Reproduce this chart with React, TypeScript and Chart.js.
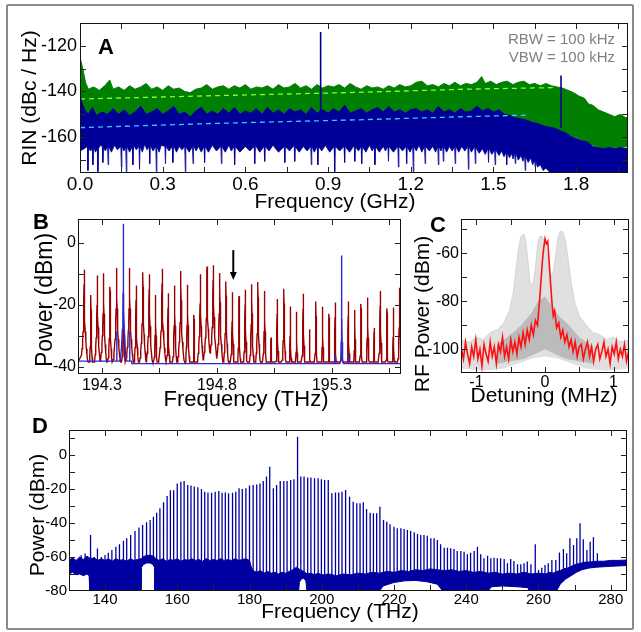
import React, { useEffect, useRef } from "react";
import { Chart, registerables } from "chart.js";

Chart.register(...registerables);

const FONT = "'Liberation Sans', Arial, Helvetica, sans-serif";
const PAGE_W = 641;
const PAGE_H = 632;
const Y_BOX = 50;
const X_BOX = 30;

type Pt = [number, number];

/* ================= Panel A : RIN ================= */
const aXTicks = [0, 0.15, 0.3, 0.45, 0.6, 0.75, 0.9, 1.05, 1.2, 1.35, 1.5, 1.65, 1.8, 1.95];
const aXLabels = [0, 0.3, 0.6, 0.9, 1.2, 1.5, 1.8];
const aYTicks = [-170, -160, -150, -140, -130, -120];
const aYLabels = [-160, -140, -120];

const aGreenTop: Pt[] = [
  [0, -125], [0.01, -130], [0.02, -136], [0.03, -139], [0.05, -138], [0.07, -139.5], [0.09, -137.5], [0.108, -135],
  [0.12, -139], [0.14, -138], [0.16, -139.5], [0.18, -137.5], [0.2, -139], [0.22, -138], [0.24, -136.5], [0.26, -139],
  [0.28, -138], [0.3, -139.5], [0.32, -137.5], [0.34, -139], [0.36, -138.5], [0.38, -140], [0.4, -140.5], [0.42, -139],
  [0.44, -138.5], [0.46, -137], [0.48, -139], [0.5, -138], [0.52, -137.5], [0.54, -139], [0.56, -137.5], [0.58, -138.5],
  [0.6, -137], [0.62, -139], [0.64, -138], [0.66, -138.5], [0.68, -137.5], [0.7, -139], [0.72, -137], [0.74, -138.5],
  [0.76, -138], [0.78, -136.5], [0.8, -138.5], [0.82, -137.5], [0.84, -139], [0.86, -137], [0.88, -138.5], [0.9, -137.5],
  [0.92, -138], [0.94, -137], [0.96, -138.5], [0.98, -136.5], [1.0, -138], [1.02, -139], [1.04, -137.5], [1.06, -138.5],
  [1.08, -138], [1.1, -139], [1.12, -137.5], [1.14, -138.5], [1.16, -137], [1.18, -138], [1.2, -137.5], [1.22, -136],
  [1.24, -135.5], [1.26, -137.5], [1.28, -137], [1.3, -138], [1.32, -136.5], [1.34, -137.5], [1.36, -136], [1.38, -137.5],
  [1.4, -136.5], [1.42, -137], [1.44, -136], [1.457, -133.5], [1.47, -136.5], [1.49, -135.5], [1.51, -137], [1.53, -136],
  [1.55, -135.5], [1.57, -137], [1.59, -136], [1.61, -135.5], [1.63, -137], [1.65, -136.5], [1.67, -137.5], [1.69, -136.5],
  [1.71, -137.5], [1.73, -138], [1.75, -138.5], [1.77, -139.5], [1.79, -140.5], [1.81, -142], [1.83, -143], [1.845, -145.5],
  [1.86, -146], [1.88, -148], [1.9, -149], [1.92, -150], [1.94, -151], [1.96, -150], [1.98, -151.5], [1.99, -151],
];
const aGreenBottom: Pt[] = [
  [0, -160], [1.7, -160], [1.75, -158], [1.8, -160], [1.85, -163], [1.9, -165], [1.95, -164.5], [1.99, -164],
];
const aBlueTop: Pt[] = [
  [0, -142], [0.01, -146], [0.02, -148.5], [0.03, -150], [0.045, -147], [0.06, -150.5], [0.08, -149], [0.1, -150],
  [0.12, -147.5], [0.14, -150], [0.16, -148], [0.18, -150.5], [0.2, -149], [0.22, -146.5], [0.24, -150], [0.26, -149],
  [0.28, -147.5], [0.3, -150], [0.32, -148.5], [0.34, -146.5], [0.36, -150], [0.38, -149], [0.4, -151], [0.42, -148.5],
  [0.44, -147], [0.46, -150], [0.48, -148.5], [0.5, -150], [0.52, -147.5], [0.54, -149.5], [0.56, -147], [0.58, -150],
  [0.6, -148.5], [0.62, -149.5], [0.64, -147.5], [0.66, -150], [0.68, -147], [0.7, -149.5], [0.72, -148], [0.74, -150],
  [0.76, -147.5], [0.78, -149], [0.8, -148], [0.82, -150], [0.84, -147], [0.86, -149.5], [0.88, -148], [0.9, -149.5],
  [0.92, -147.5], [0.94, -149], [0.96, -146], [0.98, -149.5], [1.0, -148.5], [1.02, -147.5], [1.04, -149.5], [1.06, -148],
  [1.08, -147], [1.1, -149], [1.12, -146.5], [1.14, -149], [1.16, -148], [1.18, -149.5], [1.2, -148], [1.22, -147.5],
  [1.24, -149], [1.26, -148], [1.28, -149.5], [1.3, -146.5], [1.32, -149], [1.34, -148], [1.36, -149.5], [1.38, -147.5],
  [1.4, -149], [1.42, -148.5], [1.44, -146.5], [1.46, -148.5], [1.48, -147.5], [1.5, -149], [1.52, -148], [1.54, -150],
  [1.56, -150.5], [1.58, -151.5], [1.6, -152], [1.62, -152.5], [1.64, -153.5], [1.66, -154], [1.68, -155], [1.7, -155.5],
  [1.72, -156], [1.74, -157], [1.76, -158], [1.78, -159.5], [1.8, -160.5], [1.82, -161.5], [1.84, -162], [1.86, -164],
  [1.88, -164.5], [1.9, -165], [1.92, -164.5], [1.94, -165], [1.96, -164.5], [1.99, -165],
];
const aBlueBottom: Pt[] = [
  [0, -166], [0.015, -165], [0.027, -164], [0.029, -174.5], [0.031, -164.5], [0.038, -166], [0.045, -165], [0.047, -172], [0.049, -164],
  [0.056, -166.5], [0.063, -165], [0.065, -175], [0.067, -165], [0.074, -163.5], [0.081, -164], [0.083, -171], [0.085, -164.5],
  [0.092, -166], [0.1, -164], [0.102, -172], [0.104, -164], [0.114, -166.5], [0.125, -163.5], [0.136, -165.5], [0.148, -164],
  [0.15, -173], [0.152, -164], [0.159, -166], [0.166, -164.5], [0.168, -175], [0.17, -164], [0.18, -166.5], [0.19, -164],
  [0.192, -172], [0.194, -163.5], [0.204, -165.5], [0.214, -164], [0.216, -174], [0.218, -164], [0.226, -166.5], [0.235, -163],
  [0.243, -165.5], [0.251, -164], [0.253, -171.5], [0.255, -163.5], [0.265, -166], [0.275, -164], [0.277, -175], [0.279, -164],
  [0.287, -166.5], [0.295, -163.5], [0.308, -164], [0.31, -171.5], [0.312, -164], [0.323, -166], [0.335, -164], [0.337, -171],
  [0.339, -163.5], [0.35, -166.5], [0.36, -164], [0.37, -165.5], [0.38, -164], [0.382, -175], [0.384, -164], [0.396, -166.5],
  [0.408, -164], [0.41, -171.5], [0.412, -163.5], [0.421, -166], [0.43, -164], [0.44, -166.5], [0.45, -164], [0.452, -171],
  [0.454, -164], [0.466, -166.5], [0.48, -163.5], [0.495, -166], [0.511, -164], [0.513, -171.5], [0.515, -164], [0.527, -166.5],
  [0.54, -163.5], [0.549, -166], [0.559, -164], [0.561, -172], [0.563, -164], [0.58, -166.5], [0.6, -164], [0.616, -166],
  [0.632, -164], [0.634, -171.5], [0.636, -163.5], [0.652, -166.5], [0.668, -164], [0.67, -170.5], [0.672, -164], [0.686, -166],
  [0.7, -163.5], [0.72, -166.5], [0.741, -164], [0.743, -171], [0.745, -164], [0.76, -166], [0.777, -163.5], [0.779, -170.5],
  [0.781, -164], [0.795, -166.5], [0.81, -164], [0.824, -166], [0.837, -164], [0.839, -172], [0.841, -164], [0.85, -166.5],
  [0.861, -164], [0.863, -172], [0.865, -164], [0.877, -166], [0.89, -163.5], [0.906, -166.5], [0.922, -164], [0.924, -175],
  [0.926, -164], [0.942, -166], [0.958, -164], [0.96, -171], [0.962, -164], [0.978, -166.5], [0.995, -163.5], [0.997, -170.5],
  [0.999, -164], [1.01, -166], [1.02, -164], [1.022, -171.5], [1.024, -164], [1.037, -166.5], [1.05, -163.5], [1.06, -166],
  [1.068, -164], [1.07, -172], [1.072, -164], [1.086, -166.5], [1.1, -164], [1.108, -166], [1.117, -164], [1.119, -170.5],
  [1.121, -164], [1.137, -166.5], [1.153, -164], [1.155, -173], [1.157, -164], [1.17, -166], [1.183, -164], [1.185, -171.5],
  [1.187, -164], [1.197, -166.5], [1.207, -164], [1.209, -175], [1.211, -164], [1.22, -166], [1.23, -163.5], [1.24, -166.5],
  [1.25, -164], [1.252, -171.5], [1.254, -164], [1.267, -166], [1.28, -164], [1.29, -166.5], [1.298, -164], [1.3, -172],
  [1.302, -164], [1.309, -166], [1.316, -164], [1.318, -170.5], [1.32, -164], [1.33, -166.5], [1.34, -164], [1.35, -166],
  [1.359, -164], [1.361, -171.5], [1.363, -164], [1.374, -166.5], [1.385, -164], [1.396, -166], [1.407, -164], [1.409, -174],
  [1.411, -164], [1.42, -166.5], [1.432, -164], [1.434, -171.5], [1.436, -164.5], [1.448, -167], [1.46, -165], [1.47, -167.5],
  [1.48, -165], [1.482, -171], [1.484, -165], [1.494, -167.5], [1.504, -165.5], [1.506, -172], [1.508, -165.5], [1.52, -168],
  [1.53, -166], [1.538, -168.5], [1.546, -166.5], [1.548, -172], [1.55, -166.5], [1.558, -169], [1.565, -167], [1.571, -169.5],
  [1.577, -167], [1.579, -171.5], [1.581, -167], [1.59, -170], [1.6, -168], [1.607, -170.5], [1.613, -168], [1.615, -174.5],
  [1.617, -168.5], [1.626, -171], [1.635, -169], [1.642, -172], [1.649, -170], [1.651, -173], [1.653, -170.5], [1.66, -173],
  [1.67, -172], [1.68, -174.5], [1.69, -173.5], [1.71, -176], [1.99, -176],
];
const aGreenMean: Pt[] = [[0, -143.3], [0.5, -141.8], [1.0, -140.4], [1.4, -139.0], [1.73, -138.3]];
const aBlueMean: Pt[] = [[0, -155.8], [0.5, -153.9], [1.0, -152.4], [1.4, -151.0], [1.63, -150.3]];
const aBlueSpurs: Pt[] = [[0.873, -114], [1.745, -133]];

/* ================= Panel B : optical comb ================= */
const bXTicks = [194.3, 194.55, 194.8, 195.05, 195.3, 195.55];
const bXLabels = [194.3, 194.8, 195.3];
const bYTicks = [-40, -30, -20, -10, 0];
const bYLabels = [-40, -20, 0];
const bCombFreq = [
  194.223, 194.252, 194.28, 194.307, 194.335, 194.364, 194.394, 194.42, 194.449, 194.478,
  194.506, 194.533, 194.562, 194.588, 194.616, 194.643, 194.672, 194.7, 194.728, 194.757,
  194.784, 194.812, 194.839, 194.867, 194.896, 194.923, 194.951, 194.978, 195.007, 195.035,
  195.062, 195.091, 195.119, 195.146, 195.175, 195.203, 195.23, 195.259, 195.287, 195.314,
  195.342, 195.371, 195.399, 195.426, 195.455, 195.483, 195.51, 195.539, 195.567, 195.594,
];
const bCombPow = [
  -8.6, -16.8, -10.5, -9.8, -14.1, -8.1, -16.5, -8.1, -13.7, -9.4,
  -10.1, -16.8, -8.3, -16.2, -13.7, -9.0, -13.5, -23.2, -10.1, -7.6,
  -7.2, -9.7, -12.4, -15.9, -17.1, -15.1, -13.3, -12.6, -15.5, -30.5,
  -18.1, -14.8, -20.5, -22.2, -16.4, -27.8, -18.9, -20.6, -22.8, -19.2,
  -24.5, -18.9, -21.6, -19.7, -17.6, -27.4, -15.5, -21.1, -20.8, -14.4,
];
const bCombFloor = -38.4;
const bPumpFreq = [194.365, 194.393, 194.421, 195.314, 195.342, 195.37];
const bPumpPow = [-28.5, 6.2, -28.5, -36, -4, -36];
const bPumpFloorLeft = -38.1;
const bPumpFloorRight = -38.9;
const bPumpFloorStep = 194.43;
const bArrow = { f: 194.871, from: -2.3, to: -11.9 };

/* ================= Panel C : beat note ================= */
const cXTicks = [-1, -0.5, 0, 0.5, 1];
const cXLabels = [-1, 0, 1];
const cYTicks = [-110, -100, -90, -80, -70, -60, -50];
const cYLabels = [-100, -80, -60];
const cRedX = [
  -1.22, -1.19, -1.16, -1.13, -1.1, -1.07, -1.04, -1.01, -0.98, -0.95, -0.92, -0.89, -0.86, -0.83, -0.8, -0.77,
  -0.74, -0.71, -0.68, -0.65, -0.62, -0.59, -0.56, -0.53, -0.5, -0.47, -0.44, -0.41, -0.38, -0.35, -0.32, -0.29,
  -0.26, -0.23, -0.2, -0.17, -0.14, -0.11, -0.08, -0.06, -0.04, -0.02, 0, 0.02, 0.04, 0.06, 0.08, 0.1, 0.12, 0.14,
  0.17, 0.2, 0.23, 0.26, 0.29, 0.32, 0.35, 0.38, 0.41, 0.44, 0.47, 0.5, 0.53, 0.56, 0.59, 0.62, 0.65, 0.68, 0.71,
  0.74, 0.77, 0.8, 0.83, 0.86, 0.89, 0.92, 0.95, 0.98, 1.01, 1.04, 1.07, 1.1, 1.13, 1.16, 1.19, 1.22,
];
const cRedY = [
  -100, -104, -97, -102, -106, -99, -103, -96, -104, -100, -107, -98, -102, -105, -97, -103,
  -99, -106, -98, -101, -95, -103, -99, -104, -96, -101, -97, -102, -95, -99, -93, -98,
  -92, -96, -90, -94, -88, -90, -80, -72, -64, -58, -54, -56, -55, -63, -72, -80, -86, -84,
  -91, -89, -95, -92, -97, -94, -99, -96, -101, -97, -103, -99, -98, -104, -100, -97, -103, -99, -105,
  -100, -98, -104, -101, -97, -103, -100, -106, -99, -102, -97, -104, -100, -103, -98, -105, -101,
];
const cGrayOuterTop: Pt[] = [
  [-1.23, -96], [-1.1, -97], [-1.0, -95], [-0.9, -96], [-0.8, -93], [-0.7, -92], [-0.6, -89], [-0.52, -84],
  [-0.46, -76], [-0.42, -66], [-0.38, -57], [-0.35, -53], [-0.31, -52], [-0.28, -55], [-0.25, -63], [-0.22, -72],
  [-0.18, -74], [-0.14, -66], [-0.11, -57], [-0.08, -53], [-0.04, -53], [0, -56], [0.04, -62], [0.08, -70],
  [0.12, -68], [0.16, -60], [0.19, -53], [0.22, -51], [0.26, -51], [0.3, -55], [0.34, -63], [0.38, -72],
  [0.43, -80], [0.5, -86], [0.6, -90], [0.7, -93], [0.8, -94], [0.9, -96], [1.0, -95], [1.1, -97], [1.23, -96],
];
const cGrayOuterBottom: Pt[] = [
  [-1.23, -108], [-0.9, -109], [-0.6, -108], [-0.4, -106], [-0.2, -104], [0, -103], [0.2, -104], [0.4, -106],
  [0.6, -108], [0.9, -109], [1.23, -108],
];
const cGrayInnerTop: Pt[] = [
  [-0.7, -98], [-0.5, -94], [-0.35, -90], [-0.2, -85], [-0.1, -80], [0, -78], [0.1, -82], [0.2, -86], [0.35, -90],
  [0.5, -95], [0.7, -99],
];
const cGrayInnerBottom: Pt[] = [[-0.7, -106], [-0.3, -104], [0, -100], [0.3, -104], [0.7, -106]];

/* ================= Panel D : broadband comb ================= */
const dXTicks = [130, 140, 150, 160, 170, 180, 190, 200, 210, 220, 230, 240, 250, 260, 270, 280];
const dXLabels = [140, 160, 180, 200, 220, 240, 260, 280];
const dYTicks = [-80, -70, -60, -50, -40, -30, -20, -10, 0, 10];
const dYLabels = [-80, -60, -40, -20, 0];
const dComb: Pt[] = [
  [133.4, -59], [134.5, -58], [135.1, -60], [136.0, -47], [137.0, -60], [137.9, -55], [139.0, -60], [140.0, -58.8],
  [140.9, -57.5], [141.9, -55.9], [143.0, -53.9], [144.0, -52.5], [145.1, -50.5], [146.0, -49], [147.1, -47.1], [148.3, -44.7],
  [149.4, -42.7], [150.4, -41.2], [151.5, -39.6], [152.5, -38.2], [153.4, -36.3], [154.3, -33.9], [155.2, -31.4], [156.2, -27.8],
  [157.2, -24.1], [158.1, -20.8], [159.0, -20.8], [160.0, -16.7], [161.0, -15.7], [161.9, -15.3], [162.9, -17.6], [163.8, -18.0],
  [164.7, -18.6], [165.7, -19.0], [166.7, -20.0], [167.6, -21.6], [168.5, -22.0], [169.5, -22.2], [170.5, -21.6], [171.5, -21.2],
  [172.4, -22.2], [173.3, -22.0], [174.2, -22.5], [175.3, -22.2], [176.2, -21.6], [177.1, -19.6], [178.0, -20.0], [179.0, -19.6],
  [180.0, -18.0], [181.0, -17.6], [182.0, -17.3], [182.9, -16.7], [183.8, -15.3], [184.7, -12.7], [185.6, -6.9], [186.6, -19.6],
  [187.5, -17.6], [188.5, -15.3], [189.5, -15.3], [190.4, -15.3], [191.4, -14.7], [192.3, -14.3], [193.3, 10.8], [194.2, -12.7],
  [195.1, -12.7], [196.1, -13.3], [197.0, -13.3], [198.0, -13.7], [199.0, -13.7], [199.9, -14.3], [200.8, -14.7], [201.8, -14.7],
  [202.8, -22.5], [203.8, -22.0], [204.7, -22.0], [205.6, -21.6], [206.6, -20.6], [207.7, -24.5], [208.7, -27.5], [209.7, -28.4],
  [210.6, -28.4], [211.5, -27.8], [212.4, -31.8], [213.4, -33.9], [214.3, -34.3], [215.2, -34.3], [216.1, -30.4], [217.1, -38.2],
  [218.0, -39.2], [218.9, -40.8], [220.0, -42.2], [220.9, -43.1], [221.9, -43.1], [222.8, -43.5], [223.7, -44.1], [224.6, -44.7],
  [225.6, -45.5], [226.5, -46.5], [227.4, -47.1], [228.3, -47.1], [229.2, -47.5], [230.2, -49.0], [231.1, -49.0], [232.0, -50.0],
  [232.9, -52.5], [233.9, -54.5], [234.8, -54.5], [235.7, -54.9], [236.6, -55.3], [237.5, -56.5], [238.5, -56.5], [239.4, -56.9],
  [240.3, -58.4], [241.2, -57.5], [242.2, -56.5], [243.1, -53.9], [244.0, -58.4], [244.9, -60.8], [245.9, -59.2], [246.8, -60.8],
  [247.7, -60.4], [248.6, -60.8], [249.5, -60.8], [250.5, -61.2], [251.4, -63.7], [252.3, -61.2], [253.2, -62.4], [254.2, -64.3],
  [255.1, -64.3], [256.0, -63.7], [256.9, -62.7], [257.9, -64.3], [259.1, -52.5], [260.0, -67.6], [260.9, -66.3], [261.8, -64.7],
  [262.7, -63.7], [263.7, -61.8], [264.8, -61.8], [265.8, -57.3], [266.9, -55.3], [267.8, -57.8], [268.7, -49.0], [269.7, -52.9],
  [270.6, -49.0], [271.5, -40.2], [272.4, -49.6], [273.4, -55.9], [274.3, -51.0], [275.2, -48.4], [276.3, -57.8],
];
const dFloorTop: Pt[] = [
  [130, -62], [131, -60.5], [132, -62], [133, -60], [134, -61.5], [135, -59.5], [136, -61], [137, -60.5], [138, -62],
  [139, -61], [140, -62], [141, -61], [142, -62.5], [143, -61], [144, -62], [145, -61.5], [146, -62.5], [147, -61],
  [148, -62], [149, -61.5], [150, -61], [150.5, -60], [151.5, -59], [152.5, -59], [153.5, -59.5], [154, -61], [155, -62],
  [156, -61], [157, -62.5], [158, -61.5], [159, -62], [160, -61], [161, -62.5], [162, -61.5], [163, -62], [164, -61],
  [165, -62], [166, -61.5], [167, -62.5], [168, -61], [169, -62], [170, -61.5], [171, -62], [172, -61], [173, -62],
  [174, -61.5], [175, -62], [176, -61], [177, -62], [178, -61.5], [179, -61], [180, -62], [180.5, -66], [181, -68],
  [182, -69], [183, -68], [184, -69.5], [185, -68.5], [186, -69.5], [187, -69], [188, -70], [189, -69], [190, -69.5],
  [191, -68.5], [192, -67.5], [193, -66], [194, -67.5], [195, -68.5], [196, -70], [197, -69.5], [198, -70.5], [199, -69.5],
  [200, -70.5], [202, -70], [204, -71], [206, -70], [208, -70.5], [210, -69.5], [212, -70], [214, -69], [216, -69.5],
  [218, -68.5], [220, -69], [222, -68], [224, -68.5], [226, -67.5], [228, -68], [230, -67], [232, -67.5], [234, -68],
  [236, -67.5], [238, -68.5], [240, -68], [242, -69], [244, -68.5], [246, -69.5], [248, -69], [250, -70], [252, -69.5],
  [254, -70], [256, -69], [258, -70], [260, -69.5], [262, -70], [263, -69], [264, -69.5], [265, -68.5], [266, -68],
  [267, -67], [268, -66.5], [269, -65.5], [270, -64.5], [271, -64], [272, -63.5], [273, -63], [274, -63], [276, -62.5],
  [278, -62.5], [280, -62], [282, -62], [284.6, -61.8],
];
const dFloorBottom: Pt[] = [
  [130, -70], [131, -69], [132, -70.5], [133, -70], [134, -71], [135, -70], [135.6, -71], [135.8, -80], [150, -80],
  [150.1, -66], [150.6, -64.5], [151.5, -63.5], [152.5, -63.5], [153.3, -64.5], [153.7, -66], [153.8, -80], [193.6, -80],
  [193.8, -75], [194.3, -73], [195, -72.5], [195.6, -74], [195.9, -80], [216, -80], [217, -77], [220, -75], [223, -74],
  [226, -73.8], [229, -74.5], [232, -76], [233.5, -80], [246, -80], [247, -77.5], [250, -77], [254, -77.5], [257, -78],
  [257.5, -80], [265, -80], [266, -76], [267.5, -73], [269, -71], [270.5, -69], [272, -67.5], [274, -66.5], [276, -66],
  [280, -65.5], [284.6, -65],
];

/* ================= helpers ================= */
const toXY = (arr: Pt[]) => arr.map(([x, y]) => ({ x, y }));

function verticalLines(list: Pt[], base: number) {
  const out: any[] = [];
  list.forEach(([f, p]) => {
    out.push({ x: f, y: base }, { x: f, y: p }, { x: f, y: null });
  });
  return out;
}

// spectrum of narrow lines on a noise floor (instrument line shape: Lorentzian in dB)
function lineSpectrum(freqs: number[], pows: number[], floorAt: (f: number) => number, gamma: number,
  offsets: number[], extra: number[], xmin: number, xmax: number) {
  const xs: number[] = [xmin, xmax, ...extra];
  freqs.forEach((f) => offsets.forEach((o) => xs.push(f + o)));
  xs.sort((a, b) => a - b);
  return xs
    .filter((x) => x >= xmin && x <= xmax)
    .map((x) => {
      let v = floorAt(x);
      for (let i = 0; i < freqs.length; i++) {
        const d = (x - freqs[i]) / gamma;
        const l = pows[i] - 10 * Math.log10(1 + d * d);
        if (l > v) v = l;
      }
      return { x, y: v };
    });
}

const matches = (list: number[], v: number) => list.some((l) => Math.abs(l - v) < 1e-6);

function axis(min: number, max: number, ticks: number[], labels: number[], fmt: (v: number) => string,
  size: number, padding: number, horizontal: boolean) {
  return {
    type: "linear",
    min,
    max,
    grid: { display: false, drawTicks: false },
    border: { display: false },
    afterBuildTicks: (s: any) => {
      s.ticks = ticks.map((v) => ({ value: v }));
    },
    afterFit: (s: any) => {
      if (horizontal) s.height = X_BOX;
      else s.width = Y_BOX;
    },
    ticks: {
      autoSkip: false,
      maxRotation: 0,
      minRotation: 0,
      padding,
      color: "#000",
      font: { family: FONT, size },
      callback: (v: any) => {
        const n = Number(v);
        return matches(labels, n) ? fmt(n) : "";
      },
    },
  };
}

type TextItem = {
  t: string; x: number; y: number; size: number; bold?: boolean; color?: string;
  align?: CanvasTextAlign; rot?: boolean;
};

function decor(texts: TextItem[], arrow?: { f: number; from: number; to: number }) {
  return {
    id: "decor",
    afterDraw(chart: any) {
      const { ctx, chartArea: a, scales } = chart;
      ctx.save();
      ctx.strokeStyle = "#111";
      ctx.lineWidth = 1;
      ctx.strokeRect(a.left + 0.5, a.top + 0.5, a.right - a.left - 1, a.bottom - a.top - 1);
      const TL = 6;
      ctx.strokeStyle = "#222";
      ctx.beginPath();
      scales.x.ticks.forEach((t: any) => {
        const p = Math.round(scales.x.getPixelForValue(t.value)) + 0.5;
        if (p < a.left + 2 || p > a.right - 2) return;
        ctx.moveTo(p, a.bottom);
        ctx.lineTo(p, a.bottom - TL);
        ctx.moveTo(p, a.top);
        ctx.lineTo(p, a.top + TL);
      });
      scales.y.ticks.forEach((t: any) => {
        const p = Math.round(scales.y.getPixelForValue(t.value)) + 0.5;
        if (p < a.top + 2 || p > a.bottom - 2) return;
        ctx.moveTo(a.left, p);
        ctx.lineTo(a.left + TL, p);
        ctx.moveTo(a.right, p);
        ctx.lineTo(a.right - TL, p);
      });
      ctx.stroke();
      if (arrow) {
        const x = scales.x.getPixelForValue(arrow.f);
        const y1 = scales.y.getPixelForValue(arrow.from);
        const y2 = scales.y.getPixelForValue(arrow.to);
        ctx.strokeStyle = "#000";
        ctx.fillStyle = "#000";
        ctx.lineWidth = 2;
        ctx.beginPath();
        ctx.moveTo(x, y1);
        ctx.lineTo(x, y2 - 6);
        ctx.stroke();
        ctx.beginPath();
        ctx.moveTo(x - 3.5, y2 - 8);
        ctx.lineTo(x + 3.5, y2 - 8);
        ctx.lineTo(x, y2);
        ctx.closePath();
        ctx.fill();
      }
      texts.forEach((it) => {
        ctx.save();
        ctx.fillStyle = it.color || "#000";
        ctx.font = `${it.bold ? "bold " : ""}${it.size}px ${FONT}`;
        ctx.textBaseline = "alphabetic";
        if (it.rot) {
          ctx.translate(it.x, it.y);
          ctx.rotate(-Math.PI / 2);
          ctx.textAlign = "center";
          ctx.fillText(it.t, 0, 0);
        } else {
          ctx.textAlign = it.align || "center";
          ctx.fillText(it.t, it.x, it.y);
        }
        ctx.restore();
      });
      ctx.restore();
    },
  };
}

type Area = { left: number; top: number; right: number; bottom: number };

function baseConfig(area: Area, datasets: any[], x: any, y: any, plugin: any) {
  return {
    type: "line",
    data: { datasets },
    options: {
      responsive: false,
      animation: false,
      devicePixelRatio: 1,
      events: [],
      layout: {
        padding: {
          left: area.left - Y_BOX,
          top: area.top,
          right: PAGE_W - area.right,
          bottom: PAGE_H - area.bottom - X_BOX,
        },
      },
      plugins: { legend: { display: false }, tooltip: { enabled: false }, title: { display: false } },
      elements: { point: { radius: 0 }, line: { tension: 0 } },
      scales: { x, y },
    },
    plugins: [plugin],
  };
}

const ln = (data: any[], color: string, width: number, extra: any = {}) => ({
  data,
  borderColor: color,
  backgroundColor: color,
  borderWidth: width,
  pointRadius: 0,
  fill: false,
  spanGaps: false,
  ...extra,
});

const CLEAR = "rgba(0,0,0,0)";

/* ================= chart configs ================= */
function configA() {
  const blue = "#000099";
  const green = "#007f00";
  const datasets = [
    ln(toXY(aBlueMean), "#33ccff", 1.3, { borderDash: [5, 4] }),
    ln(verticalLines(aBlueSpurs, -156), blue, 1.6),
    ln(toXY(aBlueTop), blue, 1, { fill: "+1", backgroundColor: blue }),
    ln(toXY(aBlueBottom), blue, 0.8),
    ln(toXY(aGreenMean), "#80ff40", 1.3, { borderDash: [5, 4] }),
    ln(toXY(aGreenTop), green, 1, { fill: "+1", backgroundColor: green }),
    ln(toXY(aGreenBottom), green, 1),
  ];
  const texts: TextItem[] = [
    { t: "A", x: 98, y: 54, size: 22, bold: true, align: "left" },
    { t: "RBW = 100 kHz", x: 615, y: 44, size: 15, color: "#808080", align: "right" },
    { t: "VBW = 100 kHz", x: 615, y: 62, size: 15, color: "#808080", align: "right" },
    { t: "RIN (dBc / Hz)", x: 36, y: 98, size: 21, rot: true },
    { t: "Frequency (GHz)", x: 335, y: 208, size: 21 },
  ];
  return baseConfig(
    { left: 80, top: 23, right: 628, bottom: 173 },
    datasets,
    axis(0, 1.988, aXTicks, aXLabels, (v) => v.toFixed(1), 19, 0, true),
    axis(-175.6, -110.1, aYTicks, aYLabels, (v) => String(v), 18, 3, false),
    decor(texts)
  );
}

function configB() {
  const maroonOffsets = [0, -0.0003, 0.0003, -0.0007, 0.0007, -0.0014, 0.0014, -0.0022, 0.0022, -0.0034, 0.0034,
    -0.005, 0.005, -0.007, 0.007, -0.0094, 0.0094, -0.012, 0.012, 0.014];
  const pumpOffsets = [0, -0.0002, 0.0002, -0.0005, 0.0005, -0.001, 0.001, -0.002, 0.002, -0.004, 0.004,
    -0.008, 0.008, -0.012, 0.012];
  const xmin = 194.196;
  const xmax = 195.6;
  const maroon = lineSpectrum(bCombFreq, bCombPow, () => bCombFloor, 0.0005, maroonOffsets, [], xmin, xmax);
  const pump = lineSpectrum(bPumpFreq, bPumpPow,
    (f) => (f < bPumpFloorStep ? bPumpFloorLeft : bPumpFloorRight), 0.00008,
    pumpOffsets, [bPumpFloorStep - 0.0001, bPumpFloorStep], xmin, xmax);
  const datasets = [
    ln(pump, "#2a2ad0", 1.4),
    ln(maroon, "#9a0000", 1.4),
  ];
  const texts: TextItem[] = [
    { t: "B", x: 33, y: 229, size: 22, bold: true, align: "left" },
    { t: "Power (dBm)", x: 52, y: 300, size: 23, rot: true },
    { t: "Frequency (THz)", x: 246, y: 406, size: 22 },
  ];
  return baseConfig(
    { left: 78, top: 219, right: 401, bottom: 374 },
    datasets,
    axis(xmin, xmax, bXTicks, bXLabels, (v) => v.toFixed(1), 16, 2, true),
    axis(-42.26, 7.74, bYTicks, bYLabels, (v) => String(v), 16, 2, false),
    decor(texts, bArrow)
  );
}

function configC() {
  const red = cRedX.map((x, i) => ({ x, y: cRedY[i] }));
  const datasets = [
    ln(red, "#ff1010", 1.6),
    ln(toXY(cGrayInnerTop), CLEAR, 1, { fill: "+1", backgroundColor: "rgba(150,150,150,0.5)" }),
    ln(toXY(cGrayInnerBottom), CLEAR, 1),
    ln(toXY(cGrayOuterTop), "#d4d4d4", 1, { fill: "+1", backgroundColor: "#e0e0e0" }),
    ln(toXY(cGrayOuterBottom), CLEAR, 1),
  ];
  const texts: TextItem[] = [
    { t: "C", x: 430, y: 232, size: 22, bold: true, align: "left" },
    { t: "RF Power (dBm)", x: 429, y: 314, size: 21, rot: true },
    { t: "Detuning (MHz)", x: 544, y: 402, size: 21 },
  ];
  return baseConfig(
    { left: 461, top: 219, right: 629, bottom: 373 },
    datasets,
    axis(-1.226, 1.226, cXTicks, cXLabels, (v) => String(v), 16, 0, true),
    axis(-109.9, -45.7, cYTicks, cYLabels, (v) => String(v), 16, 2, false),
    decor(texts)
  );
}

function configD() {
  const blue = "#0000a0";
  const datasets = [
    ln(toXY(dFloorTop), blue, 1, { fill: "+1", backgroundColor: blue }),
    ln(toXY(dFloorBottom), blue, 1),
    ln(toXY(dFloorBottom), CLEAR, 1, { fill: "start", backgroundColor: "#ffffff" }),
    ln(verticalLines(dComb, -80), blue, 1.3),
  ];
  const texts: TextItem[] = [
    { t: "D", x: 32, y: 433, size: 22, bold: true, align: "left" },
    { t: "Power (dBm)", x: 43.5, y: 515, size: 21, rot: true },
    { t: "Frequency (THz)", x: 340, y: 618, size: 21 },
  ];
  return baseConfig(
    { left: 69, top: 430, right: 627, bottom: 591 },
    datasets,
    axis(130.03, 284.5, dXTicks, dXLabels, (v) => String(v), 15, 0, true),
    axis(-80, 14.7, dYTicks, dYLabels, (v) => String(v), 15, 2, false),
    decor(texts)
  );
}

function Panel({ make }: { make: () => any }) {
  const ref = useRef<HTMLCanvasElement>(null);
  useEffect(() => {
    if (!ref.current) return;
    const chart = new Chart(ref.current, make());
    return () => chart.destroy();
  }, [make]);
  return (
    <canvas
      ref={ref}
      width={PAGE_W}
      height={PAGE_H}
      style={{ position: "absolute", left: 0, top: 0, width: PAGE_W, height: PAGE_H }}
    />
  );
}

export default function App() {
  return (
    <div style={{ position: "absolute", left: 0, top: 0, width: PAGE_W, height: PAGE_H, background: "#fff", overflow: "hidden" }}>
      <div
        style={{
          position: "absolute", left: 6, top: 4, width: 628, height: 626,
          border: "2px solid #8a8a8a", borderRadius: 2, boxSizing: "border-box",
        }}
      />
      <Panel make={configD} />
      <Panel make={configC} />
      <Panel make={configB} />
      <Panel make={configA} />
    </div>
  );
}
